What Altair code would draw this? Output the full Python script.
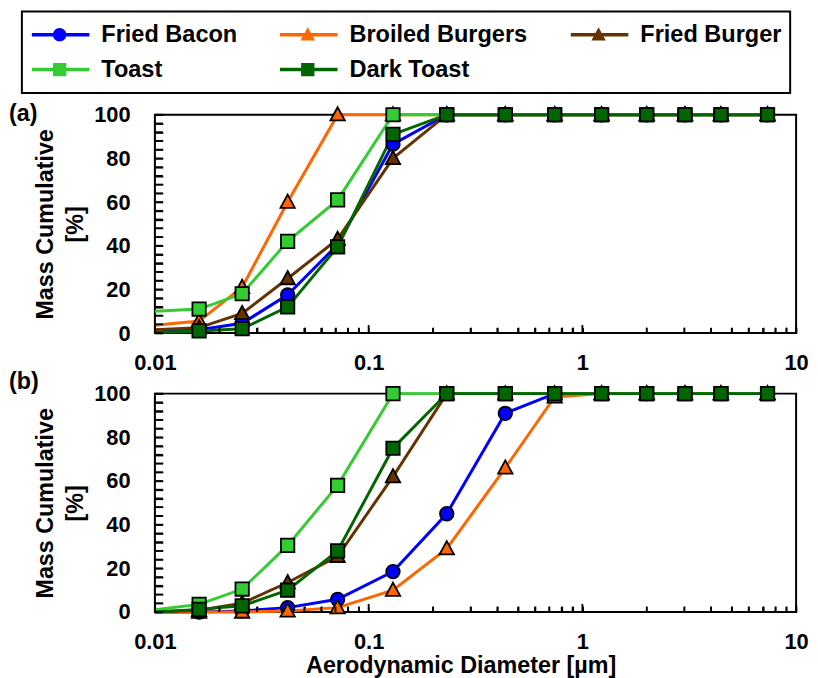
import altair as alt
import pandas as pd

# ---------------- data ----------------
SERIES = ["Fried Bacon", "Broiled Burgers", "Fried Burger", "Toast", "Dark Toast"]
COLORS = ["#0000FF", "#FF6600", "#663300", "#33CC33", "#006600"]

DIAMETER_UM = [0.01, 0.0161, 0.0256, 0.0418, 0.0716, 0.130, 0.232, 0.436,
               0.742, 1.23, 2.00, 3.02, 4.45, 7.35]

# panel (a)
A_FRIED_BACON = [0.5, 1.5, 4.5, 17.5, 40.5, 86.5, 100, 100, 100, 100, 100, 100, 100, 100]
A_BROILED_BURGERS = [3.6, 5.5, 21, 60, 100, 100, 100, 100, 100, 100, 100, 100, 100, 100]
A_FRIED_BURGER = [1.5, 2.5, 9, 25, 43, 80, 100, 100, 100, 100, 100, 100, 100, 100]
A_TOAST = [10, 11, 18, 42, 61, 100, 100, 100, 100, 100, 100, 100, 100, 100]
A_DARK_TOAST = [0.3, 1, 2, 12, 39.5, 91, 100, 100, 100, 100, 100, 100, 100, 100]

# panel (b)
B_FRIED_BACON = [0, 0, 0.5, 2, 5.8, 18.5, 45, 91, 100, 100, 100, 100, 100, 100]
B_BROILED_BURGERS = [0, 0, 0, 0.5, 2, 10, 29, 66, 98.5, 100, 100, 100, 100, 100]
B_FRIED_BURGER = [0, 0.8, 4, 13.5, 25.5, 62, 100, 100, 100, 100, 100, 100, 100, 100]
B_TOAST = [1, 3.5, 10.5, 30.5, 58, 100, 100, 100, 100, 100, 100, 100, 100, 100]
B_DARK_TOAST = [0, 1.2, 2.8, 10, 28, 75, 100, 100, 100, 100, 100, 100, 100, 100]

X_LABELS = [0.01, 0.1, 1, 10]
X_TICKS = [m * 10 ** e for e in (-2, -1, 0) for m in range(1, 10)] + [10]
Y_TICKS = list(range(0, 101, 4))

# ---------------- styling ----------------
FONT = "Liberation Sans"
PANEL_W, PANEL_H = 646, 220
LINE_LEN = 58
SYM_SIZE = LINE_LEN ** 2  # custom paths are scaled by sqrt(size)/2 = 29 px
CIRCLE = "M0.235,0A0.235,0.235,0,1,1,-0.235,0A0.235,0.235,0,1,1,0.235,0Z"
TRIANGLE = "M0,-0.26L0.25,0.2L-0.25,0.2Z"
SQUARE = "M-0.232,-0.232H0.232V0.232H-0.232Z"
SHAPES = [CIRCLE, TRIANGLE, TRIANGLE, SQUARE, SQUARE]
TICK_UP_MINOR = "M0,0V-0.18"
TICK_UP_MAJOR = "M0,0V-0.28"
TICK_RIGHT = "M0,0H0.28"
KEYS = [s + "*" for s in SERIES]
TICK_KINDS = ["xminor", "xmajor", "ytick"]
MARK_DOMAIN = KEYS + TICK_KINDS
MARK_SHAPES = SHAPES + [TICK_UP_MINOR, TICK_UP_MAJOR, TICK_RIGHT]
MARK_FILLS = COLORS + ["black", "black", "black"]


def panel_table(values):
    rows = []
    for name, vals in zip(SERIES, values):
        for d, v in zip(DIAMETER_UM, vals):
            rows.append({"kind": "data", "series": name, "key": name + "*", "d": d, "v": v})
    # positions of the inward tick marks (drawn through the same scales)
    for t in X_TICKS:
        k = "xmajor" if t in X_LABELS else "xminor"
        rows.append({"kind": k, "series": "", "key": k, "d": t, "v": 0})
    for t in Y_TICKS:
        rows.append({"kind": "ytick", "series": "", "key": "ytick", "d": 0.01, "v": t})
    return pd.DataFrame(rows)


DF_A = panel_table([A_FRIED_BACON, A_BROILED_BURGERS, A_FRIED_BURGER, A_TOAST, A_DARK_TOAST])
DF_B = panel_table([B_FRIED_BACON, B_BROILED_BURGERS, B_FRIED_BURGER, B_TOAST, B_DARK_TOAST])

LEG_X, LEG_Y = -134, -104
common_leg = dict(orient="none", legendY=LEG_Y, direction="horizontal", columns=3,
                  title=None, labelFont=FONT, labelFontSize=23.7, labelFontWeight="bold",
                  labelColor="black", labelLimit=400, padding=8, rowPadding=4,
                  columnPadding=41, clipHeight=31, symbolSize=SYM_SIZE)

LEG_LINE = alt.Legend(legendX=LEG_X, symbolType="stroke", symbolStrokeWidth=3.5,
                      labelOffset=10, strokeColor="black", fillColor="white",
                      labelExpr="datum.label == 'Fried Burger' ? datum.label + '\u00a0\u00a0\u00a0' : datum.label",
                      **common_leg)
LEG_MARK = alt.Legend(legendX=LEG_X, symbolStrokeColor="black", symbolStrokeWidth=1.8,
                      labelOffset=12, labelOpacity=0, values=KEYS,
                      labelExpr="replace(datum.label, '*', '')", **common_leg)

x_scale = alt.Scale(type="log", domain=[0.01, 10], nice=False)
y_scale = alt.Scale(domain=[0, 100], nice=False, zero=False)


def panel(df, tag, xtitle, tag_dy):
    xa = dict(values=X_TICKS, format="~g",
              labelExpr="indexof([0.01, 0.1, 1, 10], datum.value) >= 0 ? datum.label : ''",
              domain=False, grid=False, ticks=True, tickColor="black", tickWidth=1.5,
              tickSize={"expr": "-6"}, labelFlush=False, labelOverlap=False, labelPadding=26)
    if xtitle:
        xa.update(title=xtitle, titlePadding=1, titleX=308)
    else:
        xa.update(title=None)
    x_enc = alt.X("d:Q", scale=x_scale, axis=alt.Axis(**xa))
    y_enc = alt.Y("v:Q", scale=y_scale,
                  axis=alt.Axis(values=Y_TICKS,
                                labelExpr="datum.value % 20 == 0 ? datum.label : ''",
                                domain=False, grid=False, ticks=True, tickColor="black",
                                tickWidth=1.5, tickSize={"expr": "-8"},
                                labelFlush=False, labelOverlap=False, labelPadding=33,
                                title=["Mass Cumulative", "[%]"], titlePadding=6,
                                titleLineHeight=30))
    base = alt.Chart(df)
    lines = base.transform_filter("datum.kind == 'data'").mark_line(strokeWidth=3).encode(
        x=x_enc, y=y_enc,
        color=alt.Color("series:N", scale=alt.Scale(domain=SERIES, range=COLORS), legend=LEG_LINE),
    )
    points = base.transform_filter(
        "(datum.kind == 'data' && datum.d > 0.01) || datum.kind != 'data'"
    ).mark_point(
        filled=True, opacity=1, stroke="black", strokeWidth=1.8, size=SYM_SIZE
    ).encode(
        x=x_enc, y=y_enc,
        fill=alt.Fill("key:N", scale=alt.Scale(domain=MARK_DOMAIN, range=MARK_FILLS), legend=LEG_MARK),
        shape=alt.Shape("key:N", scale=alt.Scale(domain=MARK_DOMAIN, range=MARK_SHAPES), legend=LEG_MARK),
    )
    return alt.layer(lines, points).properties(
        width=PANEL_W, height=PANEL_H,
        title=alt.Title(tag, anchor="start", frame="group", dx=-147, dy=tag_dy, offset=0,
                        fontSize=23.5, font=FONT, fontWeight="bold", color="black"),
    )


chart = alt.vconcat(
    panel(DF_A, "(a)", None, 22),
    panel(DF_B, "(b)", "Aerodynamic Diameter [µm]", 11),
    spacing=61, bounds="flush",
).properties(
    padding={"left": 0, "top": 0, "right": 0, "bottom": 0},
    background="white",
).configure_view(
    stroke="black", strokeWidth=2,
).configure_axis(
    labelFont=FONT, labelFontSize=22, labelFontWeight="bold", labelColor="black",
    titleFont=FONT, titleFontSize=23.5, titleFontWeight="bold", titleColor="black",
).configure_legend(
    strokeWidth=2,
)

chart.save("out.html", embed_options={"renderer": "svg", "actions": False})
